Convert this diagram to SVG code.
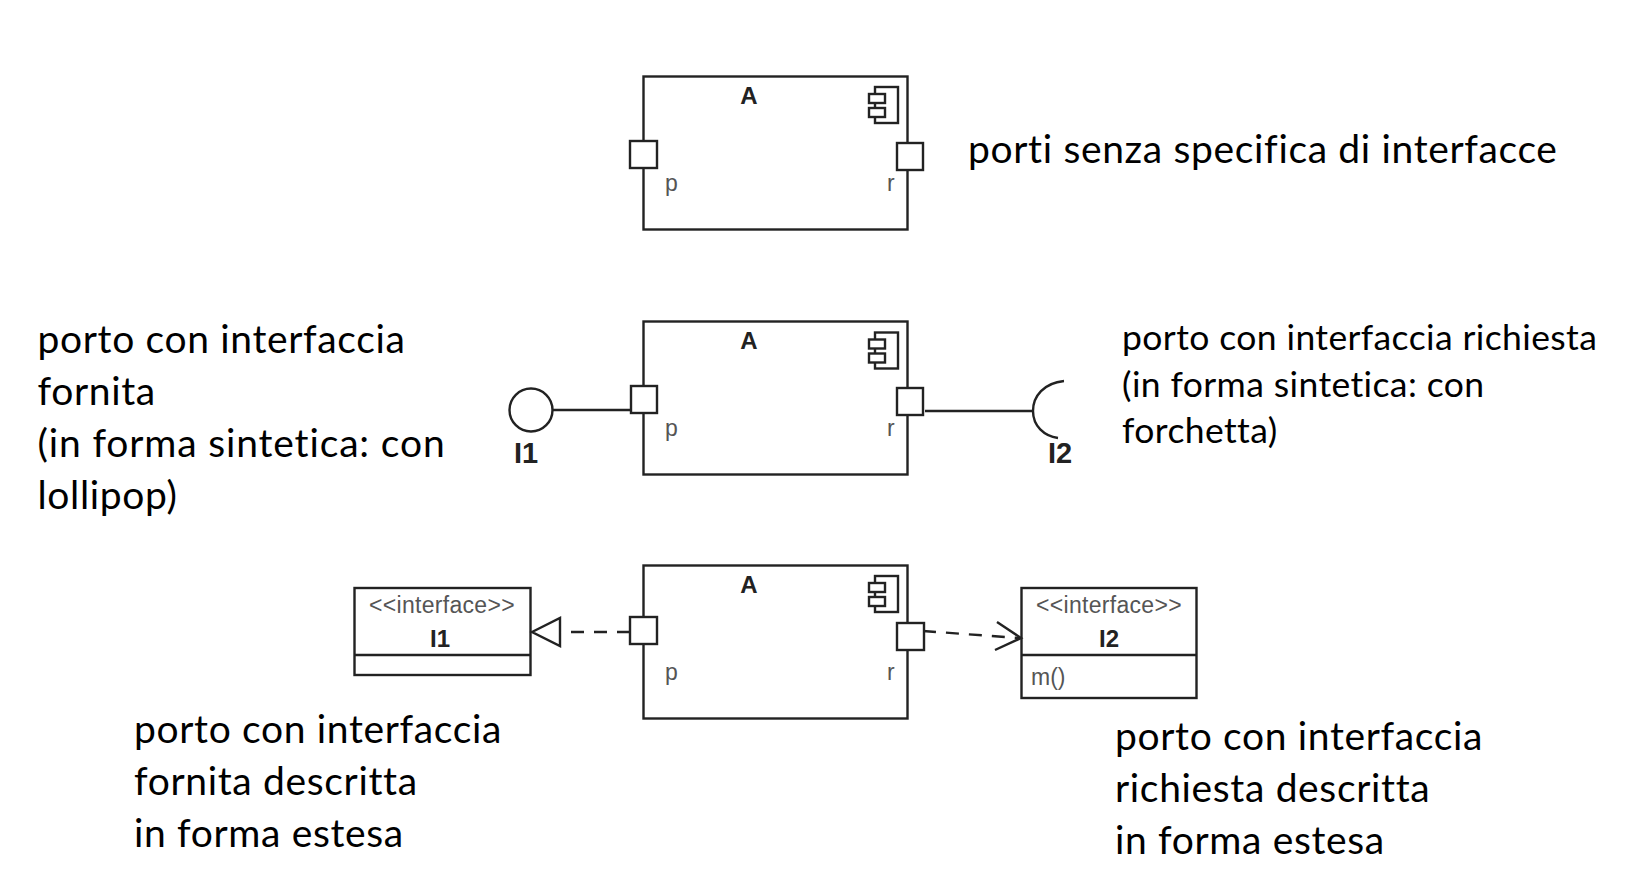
<svg xmlns="http://www.w3.org/2000/svg" width="1640" height="874" viewBox="0 0 1640 874">
<style>
.s{fill:#fff;stroke:#222;stroke-width:2.4}
.n{fill:none;stroke:#222;stroke-width:2.4}
.d{fill:none;stroke:#222;stroke-width:2.4;stroke-dasharray:13 10}
.b{font:bold 24px "Liberation Sans",Arial,sans-serif;fill:#222}
.l{font:23px "Liberation Sans",Arial,sans-serif;fill:#555}
.i{font:23px "Liberation Sans",Arial,sans-serif;fill:#555;text-anchor:middle;letter-spacing:.3px}
.t{font-family:Lato,"Noto Sans",sans-serif;fill:#000;font-variant-ligatures:none}
.a{font-size:39px;letter-spacing:.65px}
.c{font-size:35.500px;letter-spacing:.4px}
</style>
<defs>
<g id="comp">
<rect class="s" x="875" y="87" width="23" height="36"/>
<rect class="s" x="869" y="94" width="16" height="9"/>
<rect class="s" x="869" y="108" width="16" height="9"/>
</g>
</defs>
<g id="connectors">
<line class="n" x1="553" y1="410" x2="632" y2="410"/>
<line class="n" x1="925" y1="411" x2="1033" y2="411"/>
<path class="n" d="M1064 381C1044 383 1033 396 1033 411C1033 426 1044 436 1058 438"/>
<line class="d" x1="630" y1="632" x2="560" y2="632"/>
<path class="s" d="M532 632L560 618V646Z"/>
<line class="d" x1="923" y1="631" x2="1019" y2="638"/>
<path class="n" d="M997 622L1021 638L995 650"/>
</g>
<g id="component-a1">
<rect class="n" x="643.500" y="76.500" width="264" height="153"/>
<use href="#comp"/>
<text class="b" x="749" y="104" text-anchor="middle">A</text>
<rect class="s" x="630" y="141" width="27" height="27"/>
<rect class="s" x="898" y="143" width="26" height="27" transform="translate(-1 0)"/>
<text class="l" x="665" y="191">p</text>
<text class="l" x="887" y="191">r</text>
</g>
<g id="component-a2">
<rect class="n" x="643.500" y="321.500" width="264" height="153"/>
<use href="#comp" y="245.500"/>
<text class="b" x="749" y="349" text-anchor="middle">A</text>
<rect class="s" x="631" y="386" width="26" height="27"/>
<rect class="s" x="897" y="388" width="26" height="27"/>
<text class="l" x="665" y="436">p</text>
<text class="l" x="887" y="436">r</text>
</g>
<g id="lollipop-i1">
<circle class="s" cx="531" cy="410" r="21.500"/>
<text class="b" x="514" y="463" style="font-size:29px">I1</text>
</g>
<g id="fork-i2">
<text class="b" x="1048" y="463" style="font-size:29px">I2</text>
</g>
<g id="component-a3">
<rect class="n" x="643.500" y="565.500" width="264" height="153"/>
<use href="#comp" y="489"/>
<text class="b" x="749" y="593" text-anchor="middle">A</text>
<rect class="s" x="630" y="617" width="27" height="27"/>
<rect class="s" x="897" y="623" width="27" height="27"/>
<text class="l" x="665" y="680">p</text>
<text class="l" x="887" y="680">r</text>
</g>
<g id="interface-i1">
<rect class="n" x="354.500" y="588" width="176" height="87"/>
<line class="n" x1="354" y1="655" x2="531" y2="655"/>
<text class="i" x="442" y="613">&lt;&lt;interface&gt;&gt;</text>
<text class="b" x="440" y="647" text-anchor="middle">I1</text>
</g>
<g id="interface-i2">
<rect class="n" x="1021.500" y="588" width="175" height="110"/>
<line class="n" x1="1021" y1="655" x2="1197" y2="655"/>
<text class="i" x="1109" y="613">&lt;&lt;interface&gt;&gt;</text>
<text class="b" x="1109" y="647" text-anchor="middle">I2</text>
<text class="l" x="1031" y="685">m()</text>
</g>
<g id="labels">
<text class="t a" x="968" y="163">porti senza specifica di interfacce</text>
<text class="t a" x="37.500" y="353">porto con interfaccia</text>
<text class="t a" x="37.500" y="405">fornita</text>
<text class="t a" x="37.500" y="457" style="letter-spacing:.85px">(in forma sintetica: con</text>
<text class="t a" x="37.500" y="509">lollipop)</text>
<text class="t c" x="1122" y="350">porto con interfaccia richiesta</text>
<text class="t c" x="1122" y="397">(in forma sintetica: con</text>
<text class="t c" x="1122" y="443">forchetta)</text>
<text class="t a" x="134" y="743">porto con interfaccia</text>
<text class="t a" x="134" y="795">fornita descritta</text>
<text class="t a" x="134" y="847">in forma estesa</text>
<text class="t a" x="1115" y="750">porto con interfaccia</text>
<text class="t a" x="1115" y="802">richiesta descritta</text>
<text class="t a" x="1115" y="854">in forma estesa</text>
</g>
</svg>
